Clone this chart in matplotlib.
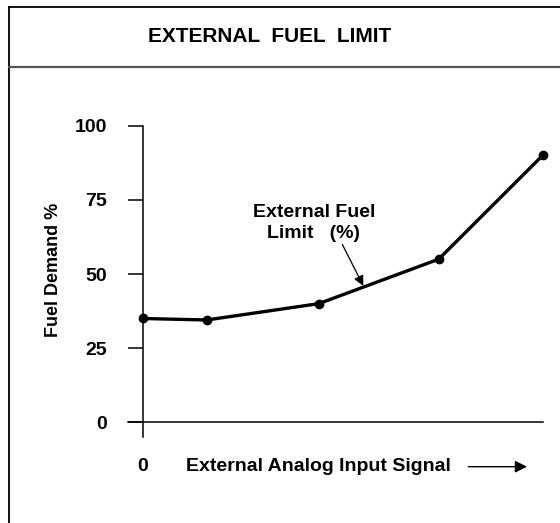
import matplotlib
matplotlib.use("Agg")
import matplotlib.pyplot as plt
from matplotlib.lines import Line2D
from matplotlib.patches import FancyArrowPatch

plt.rcParams['font.family'] = ['Liberation Sans', 'DejaVu Sans']
plt.rcParams['font.weight'] = 'bold'

# Breakpoints of the external fuel limit curve
signal = [0, 16, 44, 74, 100]
fuel_demand = [35, 34.5, 40, 55, 90]
y_ticks = [0, 25, 50, 75, 100]
y_tick_labels = ["0", "25", "50", "75", "100"]

W, H = 560, 523
fig = plt.figure(figsize=(W / 100, H / 100), dpi=100)


def fx(x):
    return x / W


def fy(y):
    return 1 - y / H


# Frame: top and left borders plus the title divider
fig.add_artist(Line2D([fx(9), fx(9)], [fy(7), 0], color='black', lw=1.3))
fig.add_artist(Line2D([fx(9), 1], [fy(7), fy(7)], color='black', lw=1.3))
fig.add_artist(Line2D([fx(9), 1], [fy(66.7), fy(66.7)], color='#555555', lw=1.6))
fig.text(fx(270), fy(36), "EXTERNAL  FUEL  LIMIT", ha='center', va='center',
         fontsize=15, fontweight='bold')

# Plot area
left, right, top, bottom = 127.7, 542.7, 125.7, 436.7
ax = fig.add_axes([fx(left), fy(bottom), (right - left) / W, (bottom - top) / H])
ax.set_xlim(-3.75, 100)
ax.set_ylim(-4.85, 100)
ax.patch.set_alpha(0)

for s in ('top', 'right'):
    ax.spines[s].set_visible(False)
ax.spines['left'].set_position(('data', 0))
ax.spines['bottom'].set_position(('data', 0))
ax.spines['left'].set_linewidth(1.1)
ax.spines['bottom'].set_linewidth(1.1)

ax.set_yticks(y_ticks)
ax.set_yticklabels(y_tick_labels, fontsize=14, fontweight='bold')
ax.tick_params(axis='y', direction='out', length=10.8, width=1.1, pad=15)
ax.set_xticks([])

ax.plot(signal, fuel_demand, color='black', lw=2.4, marker='o', ms=6,
        clip_on=False, solid_joinstyle='round')

# Curve annotation with a thin pointer onto the rising segment
ax.text(42.8, 67.3, "External Fuel\nLimit   (%)", ha='center', va='center',
        fontsize=14, fontweight='bold', linespacing=1.3)
ax.annotate("", xy=(55.15, 46.0), xytext=(49.9, 60.0),
            arrowprops=dict(arrowstyle='-|>', color='black', lw=0.9,
                            mutation_scale=15, shrinkA=0, shrinkB=0),
            annotation_clip=False)

# Axis labels
fig.text(fx(54), fy(270), "Fuel Demand %", rotation=90, ha='center', va='center',
         fontsize=13, fontweight='bold')
fig.text(fx(142.5), fy(466.7), "0", ha='center', va='center',
         fontsize=14, fontweight='bold')
fig.text(fx(186), fy(466.7), "External Analog Input Signal", ha='left', va='center',
         fontsize=14, fontweight='bold')
fig.add_artist(FancyArrowPatch(
    (fx(468.3), fy(466.7)), (fx(527), fy(466.7)), transform=fig.transFigure,
    arrowstyle='-|>', mutation_scale=18, color='black', lw=1.0,
    shrinkA=0, shrinkB=0))

fig.savefig("out.png", dpi=100)
